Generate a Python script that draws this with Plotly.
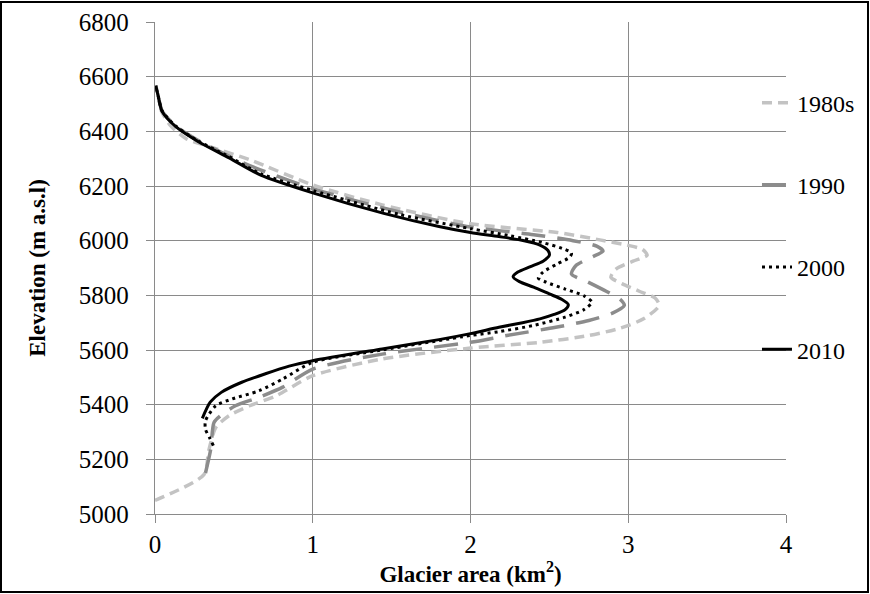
import plotly.graph_objects as go

# 1980s
area_1980s = [0.0, 0.31, 0.34, 0.385, 0.47, 0.60, 0.77, 1.0, 1.44, 2.0, 2.44, 2.75, 2.95, 3.10, 3.196, 3.17, 3.07, 2.96, 2.89, 2.92, 3.03, 3.12, 3.09, 2.99, 2.82, 2.55, 2.0, 1.44, 1.0, 0.60, 0.34, 0.2, 0.1, 0.04, 0.02, 0.005]
elev_1980s = [5050, 5144, 5230, 5316, 5360, 5396, 5433, 5506, 5567, 5607, 5628, 5653, 5680, 5715, 5763, 5790, 5815, 5843, 5866, 5895, 5925, 5947, 5968, 5984, 6003, 6030, 6062, 6131, 6204, 6296, 6345, 6372, 6420, 6475, 6530, 6567]

# 1990
area_1990 = [0.32, 0.353, 0.374, 0.416, 0.51, 0.66, 0.81, 1.0, 1.44, 2.0, 2.23, 2.54, 2.75, 2.90, 2.975, 2.95, 2.86, 2.74, 2.64, 2.67, 2.77, 2.84, 2.80, 2.65, 2.40, 2.0, 1.55, 1.0, 0.6, 0.3, 0.13, 0.045, 0.02, 0.005]
elev_1990 = [5150, 5236, 5335, 5360, 5396, 5427, 5464, 5530, 5585, 5628, 5653, 5683, 5708, 5735, 5763, 5785, 5815, 5850, 5878, 5910, 5940, 5962, 5980, 6000, 6022, 6050, 6105, 6190, 6275, 6358, 6420, 6475, 6530, 6567]

# 2000
area_2000 = [0.37, 0.345, 0.32, 0.32, 0.385, 0.49, 0.66, 0.81, 1.0, 1.44, 2.0, 2.18, 2.4, 2.60, 2.72, 2.77, 2.72, 2.60, 2.48, 2.43, 2.46, 2.55, 2.63, 2.64, 2.58, 2.45, 2.25, 2.0, 1.55, 1.0, 0.67, 0.47, 0.27, 0.13, 0.045, 0.02, 0.005]
elev_2000 = [5250, 5280, 5310, 5341, 5396, 5421, 5451, 5494, 5555, 5600, 5653, 5667, 5690, 5720, 5748, 5775, 5798, 5823, 5848, 5863, 5885, 5915, 5940, 5955, 5972, 5994, 6018, 6044, 6096, 6184, 6245, 6307, 6366, 6420, 6475, 6530, 6567]

# 2010
area_2010 = [0.30, 0.35, 0.42, 0.55, 0.70, 0.85, 1.0, 1.44, 1.80, 2.0, 2.18, 2.33, 2.44, 2.53, 2.60, 2.62, 2.58, 2.50, 2.40, 2.31, 2.27, 2.30, 2.38, 2.46, 2.50, 2.49, 2.44, 2.34, 2.18, 2.0, 1.80, 1.45, 1.0, 0.67, 0.47, 0.27, 0.13, 0.045, 0.02, 0.005]
elev_2010 = [5350, 5409, 5445, 5482, 5513, 5541, 5561, 5604, 5638, 5660, 5683, 5700, 5714, 5730, 5748, 5766, 5785, 5805, 5830, 5850, 5868, 5885, 5905, 5925, 5947, 5965, 5984, 6000, 6015, 6030, 6052, 6100, 6175, 6240, 6303, 6364, 6418, 6473, 6530, 6567]

series = [
    ("1980s", area_1980s, elev_1980s, "#c3c3c3", 3.5, "10px,6px"),
    ("1990", area_1990, elev_1990, "#8c8c8c", 3.5, "24px,12px"),
    ("2000", area_2000, elev_2000, "#000000", 3, "3px,4px"),
    ("2010", area_2010, elev_2010, "#000000", 3, "solid"),
]

fig = go.Figure()
for name, xs, ys, col, w, dash in series:
    fig.add_trace(go.Scatter(
        x=xs, y=ys, mode="lines", name=name, legendgroup=name,
        line=dict(color=col, width=w, dash=dash, shape="spline", smoothing=0.7),
    ))

font_family = "Liberation Serif"
grid = "#8a8a8a"
fig.update_layout(
    width=870, height=594,
    margin=dict(l=155, r=84, t=22, b=80, autoexpand=False),
    paper_bgcolor="white", plot_bgcolor="white",
    font=dict(family=font_family, size=25, color="black"),
    showlegend=True,
    legend=dict(x=0.954, xanchor="left", y=0.881, yanchor="top",
                bgcolor="rgba(0,0,0,0)", tracegroupgap=48,
                traceorder="grouped", font=dict(size=24, family=font_family),
                itemwidth=30),
    xaxis=dict(range=[0, 4], dtick=1, tick0=0, showgrid=True, gridcolor=grid, gridwidth=1.3,
               showline=True, linecolor=grid, linewidth=1.3, ticks="outside", tickcolor=grid,
               ticklen=8, zeroline=False, ticklabelstandoff=0,
               title=dict(text="<b>Glacier area (km<sup>2</sup>)</b>", font=dict(size=23), standoff=4)),
    yaxis=dict(range=[5000, 6800], dtick=200, tick0=5000, showgrid=True, gridcolor=grid, gridwidth=1.3,
               showline=True, linecolor=grid, linewidth=1.3, ticks="outside", tickcolor=grid,
               ticklen=8, zeroline=False, ticklabelstandoff=12,
               title=dict(text="<b>Elevation (m a.s.l)</b>", font=dict(size=23), standoff=26)),
    shapes=[dict(type="rect", xref="paper", yref="paper",
                 x0=-154/631, x1=868/631 - 155/631, y0=(514-592)/492, y1=(514-2)/492,
                 line=dict(color="black", width=2), fillcolor="rgba(0,0,0,0)", layer="above")],
)
fig.write_html("out.html", config={"displayModeBar": False},
               post_script="document.body.style.margin='0';document.body.style.overflow='hidden';")
